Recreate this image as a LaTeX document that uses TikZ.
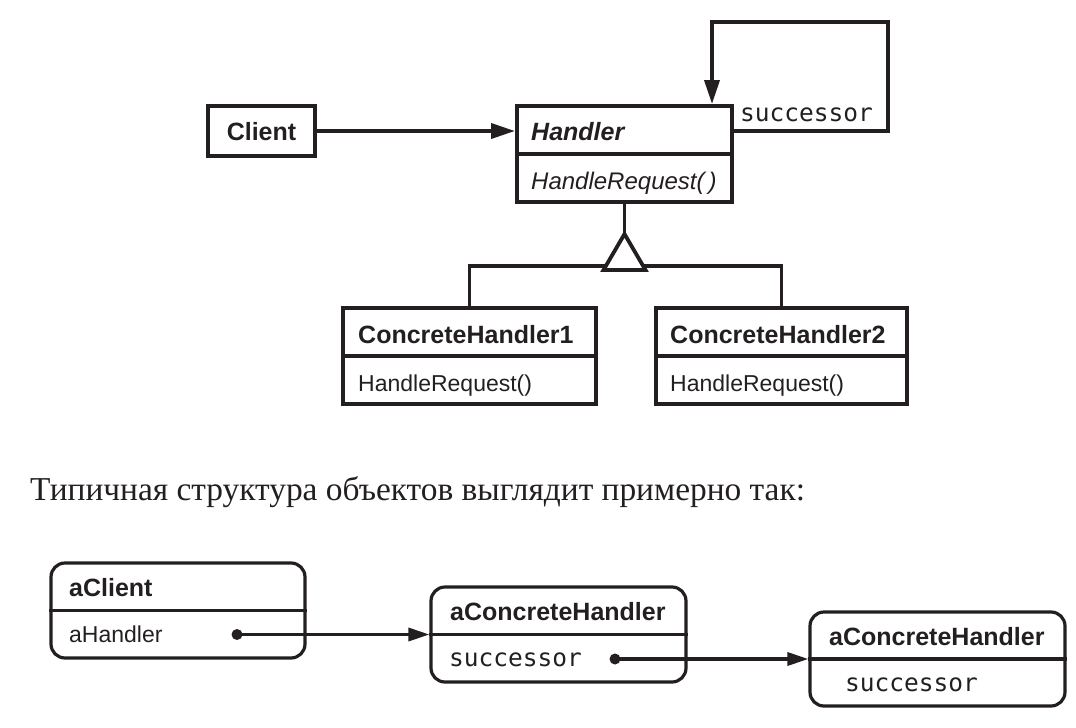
\documentclass[tikz,border=0pt]{standalone}
\usepackage{fontspec}
\setmainfont{Liberation Serif}
\setsansfont{Liberation Sans}
\setmonofont{DejaVu Sans Mono}
\usetikzlibrary{arrows.meta}
\definecolor{ink}{RGB}{35,31,32}
\tikzset{
  cls/.style={draw=ink, line width=4pt, rectangle, inner sep=0pt},
  obj/.style={draw=ink, line width=3.2pt, rectangle, rounded corners=14pt, inner sep=0pt},
  conn/.style={draw=ink, line width=3.8pt},
  arr/.style={conn, -{Triangle[length=24pt,width=15pt]}},
  oarr/.style={draw=ink, line width=3.4pt, -{Triangle[length=21pt,width=13pt]}},
  btxt/.style={anchor=base west, inner sep=0pt, text=ink, font=\sffamily\bfseries\fontsize{25}{28}\selectfont},
  rtxt/.style={anchor=base west, inner sep=0pt, text=ink, font=\sffamily\fontsize{23}{27}\selectfont},
  itxt/.style={anchor=base west, inner sep=0pt, text=ink, font=\sffamily\itshape\fontsize{24}{27}\selectfont},
  bitxt/.style={anchor=base west, inner sep=0pt, text=ink, font=\sffamily\bfseries\itshape\fontsize{25}{28}\selectfont},
  mtxt/.style={anchor=base west, inner sep=0pt, text=ink, font=\ttfamily\fontsize{24.5}{28}\selectfont},
}
\begin{document}
\begin{tikzpicture}[x=1pt,y=-1pt]
\useasboundingbox (0,0) rectangle (1076,728);
% ---------- class diagram ----------
\node[cls, minimum width=107pt, minimum height=50pt] (client) at (261.5,131) {};
\node[btxt, anchor=base] (clientT) at (261.5,140) {Client};

\node[cls, minimum width=215pt, minimum height=96pt] (handler) at (624.5,154) {};
\draw[conn, line width=4pt] (handler.west) -- (handler.east);
\node[bitxt] (handlerT) at (531,140) {Handler};
\node[itxt] (handlerM) at (531,189) {HandleRequest(\,)};

\node[cls, minimum width=253pt, minimum height=96pt] (ch1) at (469.5,356) {};
\draw[conn, line width=4pt] (ch1.west) -- (ch1.east);
\node[btxt] (ch1T) at (358,343) {ConcreteHandler1};
\node[rtxt] (ch1M) at (358,391) {HandleRequest()};

\node[cls, minimum width=251pt, minimum height=96pt] (ch2) at (781.5,356) {};
\draw[conn, line width=4pt] (ch2.west) -- (ch2.east);
\node[btxt] (ch2T) at (670,343) {ConcreteHandler2};
\node[rtxt] (ch2M) at (670,391) {HandleRequest()};

% client -> handler
\draw[arr] (client.east) -- (client.east -| handler.west);
% successor self loop
\coordinate (loopTR) at (888,22);
\draw[arr] ([yshift=23pt]handler.east) -| (loopTR) -| ([xshift=87.5pt]handler.north);
\node[mtxt] (succ) at (740,121) {successor};

% inheritance
\draw[conn] (ch1.north) -- ++(0,-40) -| (ch2.north);
\draw[conn] (handler.south) -- ++(0,30) coordinate (apex);
\draw[conn, fill=white, line join=miter] (apex) -- ++(-21,36) -- ++(42,0) -- cycle;

% ---------- sentence ----------
\node[anchor=base west, inner sep=0pt, text=ink, font=\fontsize{33.4}{38}\selectfont] (sent) at (30,500)
  {Типичная структура объектов выглядит примерно так:};

% ---------- object diagram ----------
\node[obj, minimum width=254pt, minimum height=95pt] (aclient) at (178,610.5) {};
\draw[draw=ink, line width=3.2pt] (aclient.west) -- (aclient.east);
\node[btxt] (aclientT) at (69,596) {aClient};
\node[rtxt] (aclientM) at (69,642) {aHandler};

\node[obj, minimum width=255pt, minimum height=95pt] (ach1) at (558.5,634.5) {};
\draw[draw=ink, line width=3.2pt] (ach1.west) -- (ach1.east);
\node[btxt] (ach1T) at (450,620) {aConcreteHandler};
\node[mtxt] (ach1M) at (449,666) {successor};

\node[obj, minimum width=255pt, minimum height=94pt] (ach2) at (937.5,659) {};
\draw[draw=ink, line width=3.2pt] (ach2.west) -- (ach2.east);
\node[btxt] (ach2T) at (829,645) {aConcreteHandler};
\node[mtxt] (ach2M) at (845,691) {successor};

\coordinate (d1) at (237,634.5);
\coordinate (d2) at (615,659);
\draw[oarr] (d1) -- (ach1.west);
\draw[oarr] (d2) -- (ach2.west);
\fill[ink] (d1) circle (5.5pt);
\fill[ink] (d2) circle (5.5pt);
\end{tikzpicture}
\end{document}
